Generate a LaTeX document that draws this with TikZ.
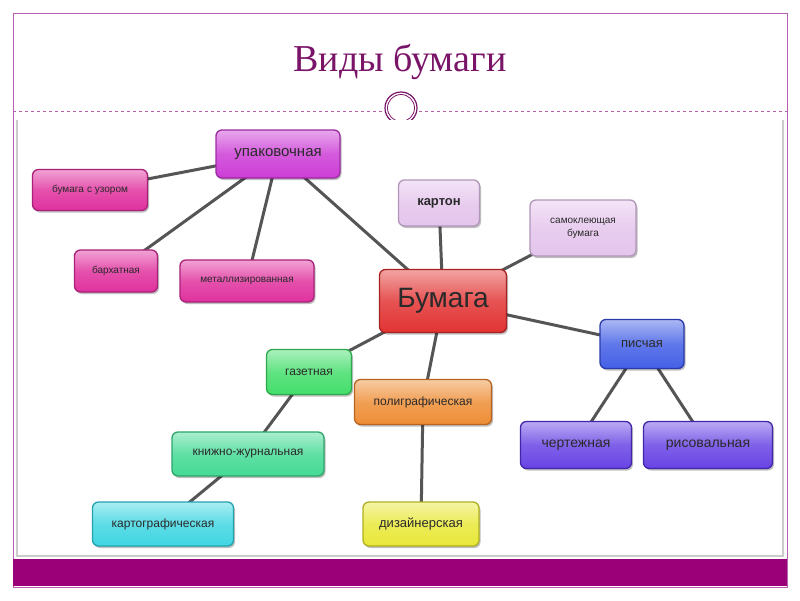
\documentclass[tikz,border=0pt]{standalone}
\usepackage{fontspec}
\setmainfont{Liberation Serif}
\setsansfont{Liberation Sans}
\usetikzlibrary{shadows}
\pgfdeclarelayer{back}
\pgfdeclarelayer{edges}
\pgfsetlayers{back,edges,main}
\definecolor{ttl}{HTML}{7A1468}
\definecolor{frm}{HTML}{B860B0}
\definecolor{bar}{HTML}{9B0078}
\definecolor{edgec}{HTML}{555555}
\definecolor{cUpak}{HTML}{CC3DD6}
\definecolor{bUpak}{HTML}{9A2AA0}
\definecolor{cPink}{HTML}{E0329E}
\definecolor{bPink}{HTML}{A82078}
\definecolor{cLav}{HTML}{E4C4EC}
\definecolor{bLav}{HTML}{B096B8}
\definecolor{cRed}{HTML}{E23434}
\definecolor{bRed}{HTML}{A82222}
\definecolor{cBlue}{HTML}{4460E6}
\definecolor{bBlue}{HTML}{2A3AA8}
\definecolor{cGreen}{HTML}{44DE6C}
\definecolor{bGreen}{HTML}{2EA84C}
\definecolor{cOrange}{HTML}{EE8E36}
\definecolor{bOrange}{HTML}{B86420}
\definecolor{cTeal}{HTML}{44DA94}
\definecolor{bTeal}{HTML}{2EA46C}
\definecolor{cCyan}{HTML}{40D6E2}
\definecolor{bCyan}{HTML}{22A2AE}
\definecolor{cYellow}{HTML}{E8E83A}
\definecolor{bYellow}{HTML}{B0B020}
\definecolor{cViolet}{HTML}{6844E4}
\definecolor{bViolet}{HTML}{4026A8}
\definecolor{txt}{HTML}{2A2A2A}
\tikzset{
  box/.style n args={4}{rounded corners=6pt, draw=#2, line width=1.3pt,
    top color=#1!45!white, bottom color=#1, middle color=#1!85!white,
    minimum width=#3, minimum height=#4, inner sep=0pt, align=center,
    text=txt, font=\sffamily,
    drop shadow={shadow xshift=1.5pt, shadow yshift=-2pt, fill=black, opacity=0.25}},
  link/.style={draw=edgec, line width=3pt}
}
\begin{document}
\begin{tikzpicture}[x=1pt,y=-1pt]
\useasboundingbox (0,0) rectangle (800,600);
\begin{pgfonlayer}{back}
  \draw[frm, line width=0.8pt] (13,13) rectangle (787,587);
  \draw[frm, dashed, line width=0.6pt] (13,111) -- (383,111);
  \draw[frm, dashed, line width=0.6pt] (419,111) -- (787,111);
  \draw[ttl, line width=1.2pt] (401,108) circle (16);
  \draw[ttl, line width=0.8pt] (401,108) circle (13.5);
  \fill[white] (15,120) rectangle (785,557);
  \draw[gray!40, line width=2.5pt] (17,120) -- (17,556) -- (783,556) -- (783,120);
  \fill[bar] (13,559) rectangle (787,586);
\end{pgfonlayer}
\node[ttl, font=\fontsize{38}{40}\selectfont] (title) at (400,62) {Виды бумаги};

\node[box={cUpak}{bUpak}{124pt}{48pt}, font=\sffamily\fontsize{15}{17}\selectfont] (upak) at (278,154) {упаковочная};
\node[box={cPink}{bPink}{115pt}{41pt}, font=\sffamily\fontsize{10}{12}\selectfont] (uzor) at (90,190) {бумага\,\,с узором};
\node[box={cPink}{bPink}{83pt}{42pt}, font=\sffamily\fontsize{10}{12}\selectfont] (barh) at (116,271) {бархатная};
\node[box={cPink}{bPink}{134pt}{42pt}, font=\sffamily\fontsize{10}{12}\selectfont] (metal) at (247,281) {металлизированная};
\node[box={cLav}{bLav}{81pt}{46pt}, font=\sffamily\bfseries\fontsize{13}{15}\selectfont] (karton) at (439,203) {картон};
\node[box={cLav}{bLav}{106pt}{56pt}, font=\sffamily\fontsize{10}{13}\selectfont] (samo) at (583,228) {самоклеющая\\бумага};
\node[box={cRed}{bRed}{127pt}{63pt}, font=\sffamily\fontsize{28}{30}\selectfont] (bum) at (443,301) {Бумага};
\node[box={cBlue}{bBlue}{84pt}{49pt}, font=\sffamily\fontsize{13}{15}\selectfont] (pis) at (642,344) {писчая};
\node[box={cGreen}{bGreen}{85pt}{45pt}, font=\sffamily\fontsize{12}{14}\selectfont] (gaz) at (309,372) {газетная};
\node[box={cOrange}{bOrange}{137pt}{45pt}, font=\sffamily\fontsize{12}{14}\selectfont] (poli) at (423,402) {полиграфическая};
\node[box={cTeal}{bTeal}{152pt}{44pt}, font=\sffamily\fontsize{12}{14}\selectfont] (kniga) at (248,454) {книжно-журнальная};
\node[box={cCyan}{bCyan}{141pt}{44pt}, font=\sffamily\fontsize{12}{14}\selectfont] (karto) at (163,524) {картографическая};
\node[box={cYellow}{bYellow}{116pt}{44pt}, font=\sffamily\fontsize{13}{15}\selectfont] (diz) at (421,524) {дизайнерская};
\node[box={cViolet}{bViolet}{111pt}{47pt}, font=\sffamily\fontsize{14}{16}\selectfont] (cher) at (576,445) {чертежная};
\node[box={cViolet}{bViolet}{129pt}{47pt}, font=\sffamily\fontsize{14}{16}\selectfont] (ris) at (708,445) {рисовальная};

\begin{pgfonlayer}{edges}
  \draw[link] (upak.center) -- (uzor.center);
  \draw[link] (upak.center) -- (barh.center);
  \draw[link] (upak.center) -- (metal.center);
  \draw[link] (upak.center) -- (bum.center);
  \draw[link] (bum.center) -- (karton.center);
  \draw[link] (bum.center) -- (samo.center);
  \draw[link] (bum.center) -- (pis.center);
  \draw[link] (bum.center) -- (gaz.center);
  \draw[link] (bum.center) -- (poli.center);
  \draw[link] (gaz.center) -- (kniga.center);
  \draw[link] (kniga.center) -- (karto.center);
  \draw[link] (poli.center) -- (diz.center);
  \draw[link] (pis.center) -- (cher.center);
  \draw[link] (pis.center) -- (ris.center);
\end{pgfonlayer}
\end{tikzpicture}
\end{document}
